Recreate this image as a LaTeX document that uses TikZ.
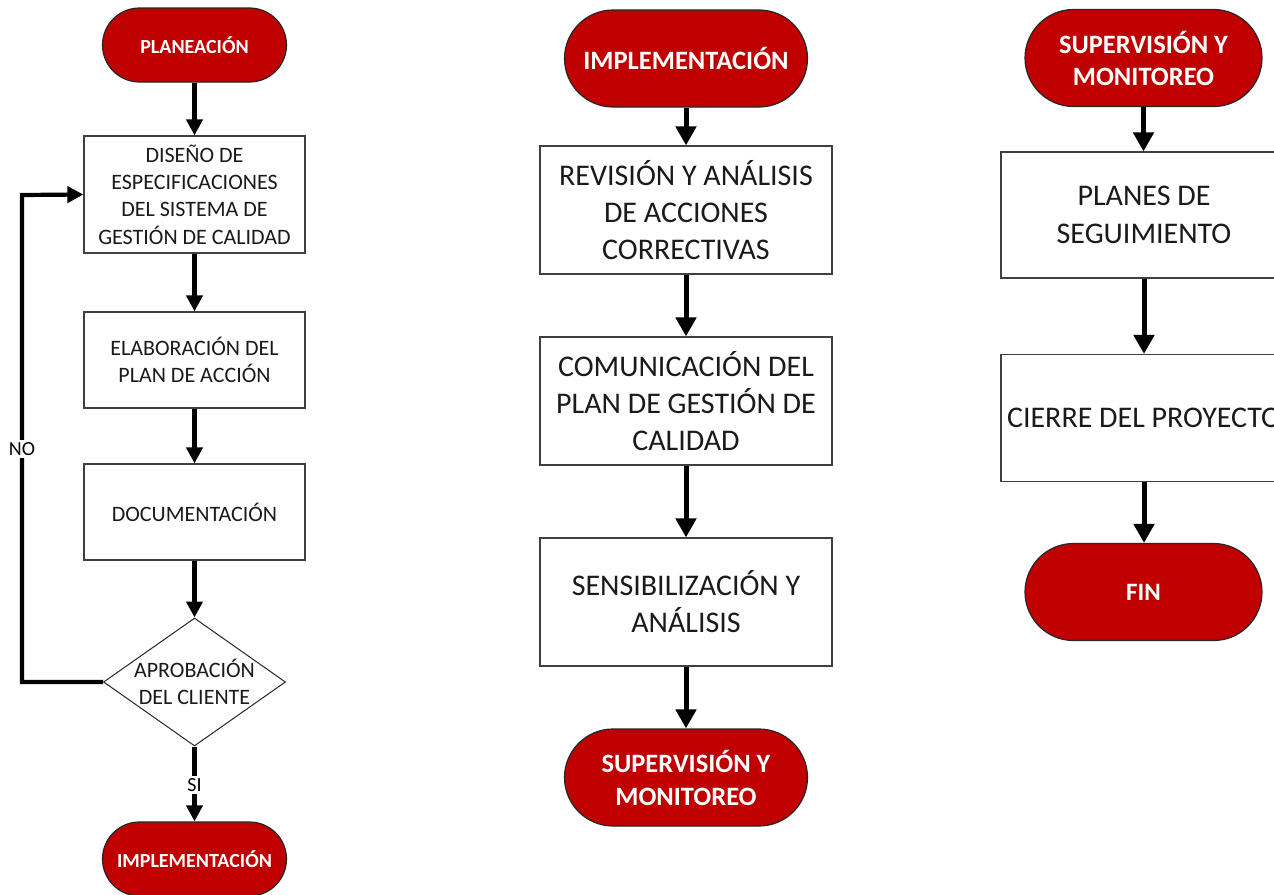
\documentclass[tikz,border=0pt]{standalone}
\usepackage{fontspec}
\setmainfont{Carlito}
\usetikzlibrary{arrows.meta,shapes.geometric}
\definecolor{termred}{HTML}{C00000}
\definecolor{txtdark}{HTML}{1A1A1A}
\begin{document}
\begin{tikzpicture}[x=1pt,y=-1pt,
  term/.style={draw=black!85, line width=1.2pt, fill=termred, text=white, align=center, inner sep=0pt},
  termA/.style={term, minimum width=184pt, minimum height=74pt, rounded corners=37pt, font=\fontsize{20}{24}\bfseries\selectfont},
  termB/.style={term, minimum width=243pt, minimum height=97pt, rounded corners=48.5pt, font=\fontsize{26.5}{33}\bfseries\selectfont},
  termC/.style={term, minimum width=237pt, minimum height=97pt, rounded corners=48.5pt, font=\fontsize{26.5}{32}\bfseries\selectfont},
  boxbase/.style={draw=black!75, line width=1.2pt, fill=white, text=txtdark, align=center, inner sep=0pt},
  boxA/.style={boxbase, minimum width=221pt, font=\fontsize{22}{27.3}\selectfont},
  boxB/.style={boxbase, minimum width=292pt, minimum height=128pt, font=\fontsize{30}{37}\selectfont},
  boxC/.style={boxbase, minimum width=286pt, minimum height=126pt, font=\fontsize{30}{38}\selectfont},
  diam/.style={diamond, draw=black!85, line width=1pt, fill=white, minimum width=182pt, minimum height=128pt, inner sep=0pt},
  txtA/.style={text=txtdark, align=center, inner sep=0pt, font=\fontsize{22}{27}\selectfont},
  lbl/.style={fill=white, text=black, inner sep=2.5pt, font=\fontsize{20}{24}\selectfont},
  arrA/.style={line width=4.2pt, -{Triangle[width=16pt,length=16pt]}},
  lineA/.style={line width=4.2pt},
  arrB/.style={line width=5pt, -{Triangle[width=20pt,length=19pt]}}
]
\useasboundingbox (0,0) rectangle (1274,894);
\clip (0,0) rectangle (1274,894);

% ---------- column 1 ----------
\node[termA] (plan) at (194.5,45) {PLANEACIÓN};
\node[boxA, minimum height=117pt] (dis) at (194.5,194.5) {DISEÑO DE\\ESPECIFICACIONES\\DEL SISTEMA DE\\GESTIÓN DE CALIDAD};
\node[boxA, minimum height=96pt] (ela) at (194.5,360) {ELABORACIÓN DEL\\PLAN DE ACCIÓN};
\node[boxA, minimum height=96pt] (doc) at (194.5,512) {DOCUMENTACIÓN};
\node[diam] (apr) at (194.5,682) {};
\node[txtA] (aprt) at (apr.center) {APROBACIÓN\\DEL CLIENTE};
\node[termA] (imp1) at (194.5,859) {IMPLEMENTACIÓN};
\coordinate (loopc) at (22,195);

\draw[arrA] (plan.south) -- (dis.north);
\draw[arrA] (dis.south) -- (ela.north);
\draw[arrA] (ela.south) -- (doc.north);
\draw[arrA] (doc.south) -- (apr.north);
\draw[arrA] (apr.south) -- (imp1.north);
\draw[arrA] (apr.west) -| (loopc) -- (dis.west);
\node[lbl] (no) at (22,449) {NO};
\node[lbl] (si) at (194.5,785) {SI};

% ---------- column 2 ----------
\node[termB] (imp2) at (686,58.5) {IMPLEMENTACIÓN};
\node[boxB] (rev) at (686,210) {REVISIÓN Y ANÁLISIS\\DE ACCIONES\\CORRECTIVAS};
\node[boxB] (com) at (686,401) {COMUNICACIÓN DEL\\PLAN DE GESTIÓN DE\\CALIDAD};
\node[boxB] (sen) at (686,602) {SENSIBILIZACIÓN Y\\ANÁLISIS};
\node[termB] (sup2) at (686,777.5) {SUPERVISIÓN Y\\MONITOREO};

\draw[arrB] (imp2.south) -- (rev.north);
\draw[arrB] (rev.south) -- (com.north);
\draw[arrB] (com.south) -- (sen.north);
\draw[arrB] (sen.south) -- (sup2.north);

% ---------- column 3 ----------
\node[termC] (sup3) at (1143.5,58) {SUPERVISIÓN Y\\MONITOREO};
\node[boxC] (pla) at (1144,215) {PLANES DE\\SEGUIMIENTO};
\node[boxC, minimum height=127pt] (cie) at (1144,418) {CIERRE DEL PROYECTO};
\node[termC, font=\fontsize{25}{30}\bfseries\selectfont] (fin) at (1143.5,592) {FIN};

\draw[arrB] (sup3.south) -- (sup3.south |- pla.north);
\draw[arrB] (pla.south) -- (cie.north);
\draw[arrB] (cie.south) -- (cie.south |- fin.north);
\end{tikzpicture}
\end{document}
